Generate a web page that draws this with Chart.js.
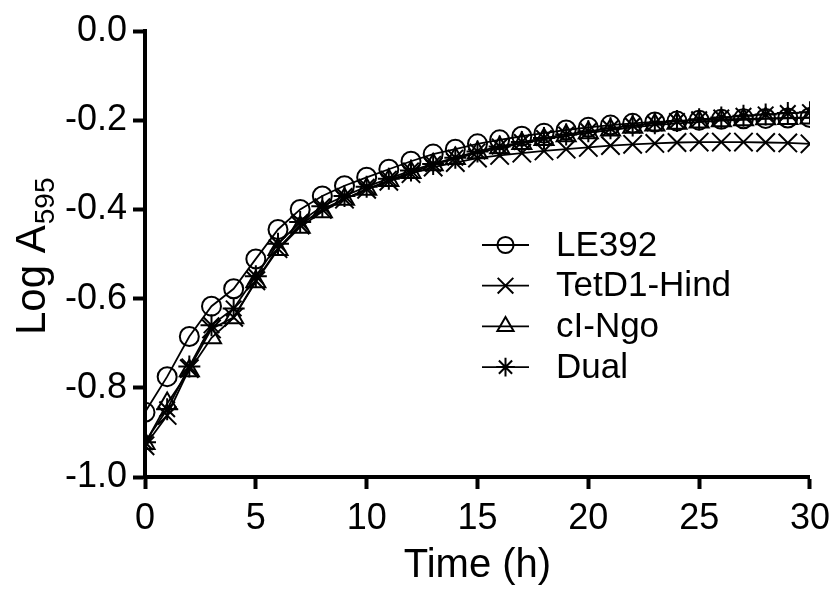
<!DOCTYPE html>
<html>
<head>
<meta charset="utf-8">
<script src="https://cdn.jsdelivr.net/npm/chart.js@4/dist/chart.umd.min.js"></script>
<style>
  html, body { margin: 0; padding: 0; background: #fff; }
  #wrap { width: 838px; height: 590px; }
</style>
</head>
<body>
<div id="wrap"><canvas id="growth" width="838" height="590"></canvas></div>
<script>
const hours = [0, 1, 2, 3, 4, 5, 6, 7, 8, 9, 10, 11, 12, 13, 14, 15, 16, 17, 18, 19, 20, 21, 22, 23, 24, 25, 26, 27, 28, 29, 30];

const le392 = [-0.855, -0.775, -0.685, -0.617, -0.578, -0.511, -0.445, -0.400, -0.370, -0.347, -0.328, -0.310, -0.292, -0.276, -0.265, -0.253,
  -0.244, -0.236, -0.229, -0.222, -0.216, -0.211, -0.207, -0.204, -0.202, -0.200, -0.198, -0.197, -0.196, -0.195, -0.194];
const tetD1Hind = [-0.930, -0.862, -0.757, -0.668, -0.642, -0.560, -0.488, -0.435, -0.400, -0.377, -0.355, -0.337, -0.320, -0.305, -0.295, -0.285,
  -0.279, -0.274, -0.269, -0.265, -0.261, -0.257, -0.254, -0.252, -0.250, -0.249, -0.249, -0.249, -0.250, -0.251, -0.253];
const ciNgo = [-0.925, -0.835, -0.762, -0.688, -0.643, -0.562, -0.490, -0.440, -0.405, -0.377, -0.355, -0.335, -0.317, -0.300, -0.286, -0.273,
  -0.262, -0.252, -0.243, -0.235, -0.228, -0.222, -0.216, -0.211, -0.207, -0.204, -0.201, -0.199, -0.197, -0.196, -0.195];
const dual = [-0.922, -0.848, -0.752, -0.660, -0.622, -0.550, -0.477, -0.428, -0.393, -0.370, -0.349, -0.331, -0.313, -0.298, -0.284, -0.270,
  -0.259, -0.249, -0.240, -0.232, -0.225, -0.218, -0.212, -0.207, -0.202, -0.198, -0.194, -0.190, -0.187, -0.184, -0.182];

const seriesNames = ['LE392', 'TetD1-Hind', 'cI-Ngo', 'Dual'];
const seriesValues = [le392, tetD1Hind, ciNgo, dual];
const seriesMarkers = ['circle', 'crossRot', 'triangle', 'star'];
const markerSizes = [9.5, 13, 11, 11];

const FONT = "'Liberation Sans', Arial, Helvetica, sans-serif";

const datasets = seriesNames.map((name, i) => ({
  label: name,
  data: hours.map((h, j) => ({ x: h, y: seriesValues[i][j] })),
  borderColor: '#000',
  borderWidth: 1.8,
  pointStyle: seriesMarkers[i],
  pointRadius: markerSizes[i],
  pointBorderWidth: 2,
  pointBorderColor: '#000',
  pointBackgroundColor: 'rgba(0,0,0,0)',
  fill: false,
  tension: 0
}));

// legend with a short line through each marker, like the original figure
const lineLegend = {
  id: 'lineLegend',
  afterDraw(chart) {
    const ctx = chart.ctx;
    ctx.save();
    seriesNames.forEach((name, i) => {
      const y = 245 + i * 40.7;
      ctx.strokeStyle = '#000';
      ctx.lineWidth = 1.8;
      ctx.beginPath();
      ctx.moveTo(482, y);
      ctx.lineTo(529, y);
      ctx.stroke();
      ctx.lineWidth = 2;
      ctx.fillStyle = 'rgba(0,0,0,0)';
      Chart.helpers.drawPoint(ctx, { pointStyle: seriesMarkers[i], radius: markerSizes[i] * 0.85, rotation: 0, borderWidth: 2 }, 505.5, y);
      ctx.fillStyle = '#000';
      ctx.font = '35px ' + FONT;
      ctx.textAlign = 'left';
      ctx.textBaseline = 'middle';
      ctx.fillText(name, 556, y + 1);
    });
    ctx.restore();
  }
};

// y title with a subscript
const yTitle = {
  id: 'yTitle',
  afterDraw(chart) {
    const ctx = chart.ctx;
    ctx.save();
    ctx.translate(45, 335);
    ctx.rotate(-Math.PI / 2);
    ctx.fillStyle = '#000';
    ctx.textAlign = 'left';
    ctx.textBaseline = 'alphabetic';
    ctx.font = '42px ' + FONT;
    ctx.fillText('Log A', 0, 0);
    const w = ctx.measureText('Log A').width;
    ctx.font = '28px ' + FONT;
    ctx.fillText('595', w + 1, 9);
    ctx.restore();
  }
};

new Chart(document.getElementById('growth'), {
  type: 'line',
  data: { datasets },
  plugins: [lineLegend, yTitle],
  options: {
    responsive: false,
    animation: false,
    layout: { padding: { top: 31, right: 23, left: 0, bottom: 0 } },
    plugins: {
      legend: { display: false },
      tooltip: { enabled: false }
    },
    scales: {
      x: {
        type: 'linear',
        min: 0,
        max: 30,
        afterFit: (scale) => { scale.height = 113; },
        border: { display: true, color: '#000', width: 4 },
        grid: { drawOnChartArea: false, drawTicks: true, tickLength: 12, tickWidth: 4, tickColor: '#000' },
        ticks: { stepSize: 5, color: '#000', padding: 8, font: { family: FONT, size: 36 } },
        title: { display: true, text: 'Time (h)', color: '#000', font: { family: FONT, size: 40 }, padding: { top: 0, bottom: 0 } }
      },
      y: {
        type: 'linear',
        min: -1,
        max: 0,
        afterFit: (scale) => { scale.width = 145; },
        border: { display: true, color: '#000', width: 4 },
        grid: { drawOnChartArea: false, drawTicks: true, tickLength: 12, tickWidth: 4, tickColor: '#000' },
        ticks: { stepSize: 0.2, color: '#000', padding: 6, font: { family: FONT, size: 36 },
          callback: (v) => v.toFixed(1) }
      }
    }
  }
});
</script>
</body>
</html>
